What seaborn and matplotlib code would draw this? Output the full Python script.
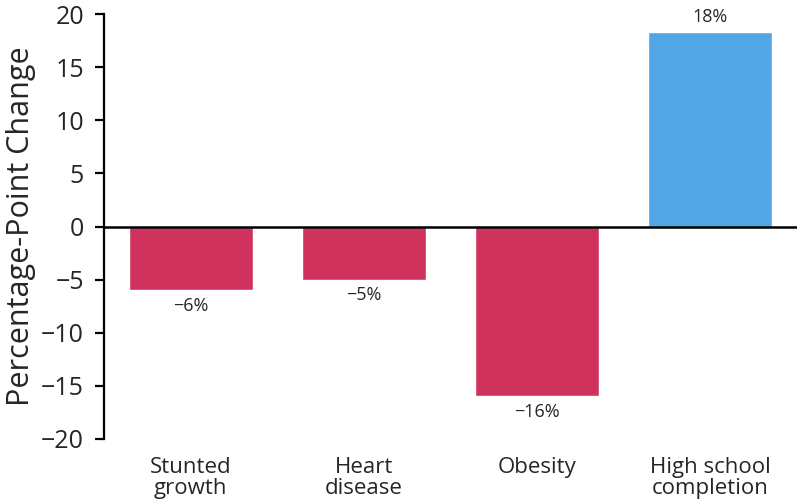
"""
Percentage-point change by outcome
"""
import matplotlib
matplotlib.use("Agg")
import matplotlib.pyplot as plt
import seaborn as sns
import pandas as pd

categories = ["Stunted\ngrowth", "Heart\ndisease", "Obesity", "High school\ncompletion"]
values = [-6.0, -5.0, -16.0, 18.3]
value_labels = ["\u22126%", "\u22125%", "\u221216%", "18%"]
y_ticks = [-20, -15, -10, -5, 0, 5, 10, 15, 20]
y_tick_labels = ["\u221220", "\u221215", "\u221210", "\u22125", "0", "5", "10", "15", "20"]

RED = "#D0325E"
BLUE = "#52A6E5"

sns.set_style("white")
plt.rcParams["font.family"] = ["Open Sans", "DejaVu Sans"]

df = pd.DataFrame({"category": categories, "value": values})
df["sign"] = ["neg" if v < 0 else "pos" for v in values]

fig = plt.figure(figsize=(8.01, 5.04), dpi=100)
ax = fig.add_axes([0.130, 0.129, 0.865, 0.843])

sns.barplot(
    data=df, x="category", y="value", hue="sign",
    palette={"neg": RED, "pos": BLUE}, width=0.715,
    order=categories, legend=False, ax=ax, saturation=1,
)

# zero line
ax.axhline(0, color="black", lw=1.8, zorder=5)

for i, (v, lab) in enumerate(zip(values, value_labels)):
    if v < 0:
        ax.text(i, v - 0.6, lab, ha="center", va="top", fontsize=13)
    else:
        ax.text(i, v + 0.6, lab, ha="center", va="bottom", fontsize=13)

ax.set_xlim(-0.5, 3.5)
ax.set_ylim(-20, 20)
ax.set_yticks(y_ticks)
ax.set_yticklabels(y_tick_labels)
ax.set_ylabel("Percentage-Point Change", fontsize=22, labelpad=4)
ax.set_xlabel("")

for s in ["top", "right", "bottom"]:
    ax.spines[s].set_visible(False)
ax.spines["left"].set_linewidth(1.6)
ax.spines["left"].set_color("black")

ax.tick_params(axis="y", labelsize=18, length=6.5, width=1.6, color="black",
               direction="out", left=True, pad=8)
ax.tick_params(axis="x", labelsize=16, length=0, pad=13)
for t in ax.get_xticklabels():
    t.set_linespacing(1.0)

plt.savefig("out.png", dpi=100)
